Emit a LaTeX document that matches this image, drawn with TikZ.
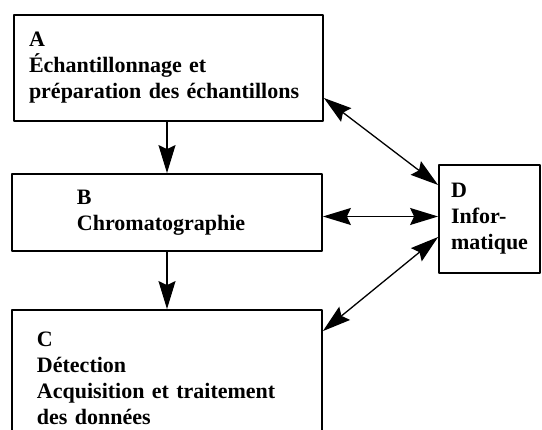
\documentclass[tikz,border=0pt]{standalone}
\usepackage{fontspec}
\setmainfont{Liberation Serif}
\usetikzlibrary{arrows.meta}
\tikzset{
	boite/.style={draw,line width=1.8pt,align=left,inner ysep=0pt},
	fleche/.style={line width=1.3pt}
}
\begin{document}
\begin{tikzpicture}[x=1pt,y=1pt,line join = round,>={Stealth[length=28pt,width=17pt,inset=4pt]},font=\fontsize{22}{26}\selectfont\bfseries]
	\useasboundingbox (0,0) rectangle (542,430);
	%Les boites
	\node[boite,text width=279pt,inner xsep=15pt,minimum height=106pt] (A) at (168.5,362) {A\\Échantillonnage et\\préparation des échantillons};
	\node[boite,text width=180pt,inner xsep=65pt,minimum height=77pt] (B) at (167,217.5) {B\\Chromatographie};
	\node[boite,text width=260pt,inner xsep=25pt,minimum height=136pt] (C) at (167,52) {C\\Détection\\Acquisition et traitement\\des données};
	\node[boite,inner xsep=0pt,minimum width=101pt,minimum height=108pt] (D) at (489.5,211) {D\\Infor-\\matique};
	%Les fleches
	\draw[fleche,->] (A.south -| B.north) -- (B.north);
	\draw[fleche,->] (B.south) -- (C.north);
	\draw[fleche,<->] ([yshift=-30pt]A.east) -- ([yshift=34pt]D.west);
	\draw[fleche,<->] ([yshift=-4pt]B.east) -- ([yshift=-4pt]B.east -| D.west);
	\draw[fleche,<->] ([yshift=-22pt]C.north east) -- ([yshift=-18pt]D.west);
\end{tikzpicture}
\end{document}
